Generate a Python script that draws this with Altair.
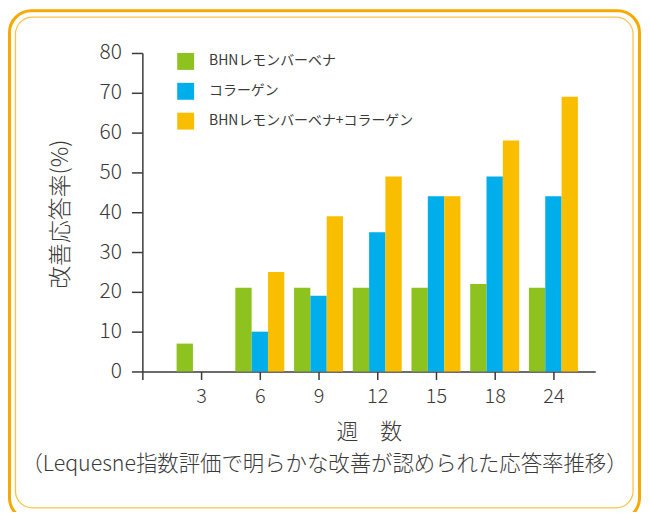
import altair as alt
import pandas as pd

# ---- data ----
weeks = ["3", "6", "9", "12", "15", "18", "24"]
series_names = ["BHNレモンバーベナ", "コラーゲン", "BHNレモンバーベナ+コラーゲン"]
bhn = [7, 21, 21, 21, 21, 22, 21]
collagen = [0, 10, 19, 35, 44, 49, 44]
combo = [0, 25, 39, 49, 44, 58, 69]
colors = ["#8DC21F", "#00AEEC", "#FABE00"]
tick_labels = [""] + weeks
y_ticks = list(range(0, 81, 10))

y_title = "改善応答率(%)"
x_title = "週　数"
subtitle = "（Lequesne指数評価で明らかな改善が認められた応答率推移）"

FONT = "Noto Sans CJK JP"
TXT = "#3a3a3a"

rows = []
for s, vals in enumerate([bhn, collagen, combo]):
    for i, v in enumerate(vals):
        rows.append({"week": weeks[i], "pos": i + 1, "s": s,
                     "series": series_names[s], "value": v})
df = pd.DataFrame(rows)

PW, PH = 455, 320
BW = 0.278
label_expr = "[" + ",".join(f"'{t}'" for t in tick_labels) + "][datum.value]"

bars = alt.Chart(df).mark_bar(orient="vertical").transform_calculate(
    x0=f"datum.pos + (datum.s - 1) * {BW} - {BW / 2}",
    x1=f"datum.pos + (datum.s - 1) * {BW} + {BW / 2}",
).encode(
    x=alt.X("x0:Q",
            scale=alt.Scale(domain=[0, PW / 59.0], nice=False, zero=False, padding=0),
            axis=alt.Axis(values=list(range(0, 8)), labelExpr=label_expr,
                          title=None, grid=False, tickSize=8, labelPadding=7,
                          labelFontSize=20, labelFontWeight=300,
                          labelColor=TXT, domainColor="#3a3a3a", tickColor="#3a3a3a",
                          domainWidth=1.5, tickWidth=1.5, labelFont=FONT)),
    x2="x1:Q",
    y=alt.Y("value:Q",
            scale=alt.Scale(domain=[0, 80], nice=False, padding=0),
            axis=alt.Axis(values=y_ticks, title=None, grid=False, tickSize=11,
                          labelPadding=10, labelFontSize=21, labelFontWeight=300,
                          labelColor=TXT, domainColor="#3a3a3a", tickColor="#3a3a3a",
                          domainWidth=1.5, tickWidth=1.5, labelFont=FONT)),
    y2=alt.datum(0),
    color=alt.Color("series:N",
                    scale=alt.Scale(domain=series_names, range=colors),
                    sort=series_names,
                    legend=alt.Legend(title=None, orient="none", legendX=35, legendY=0,
                                      symbolType="square", symbolSize=289,
                                      symbolStrokeWidth=0, rowPadding=13,
                                      labelOffset=15, labelFontSize=14, labelLimit=0,
                                      labelColor=TXT, labelFont=FONT, padding=0)),
)

one = pd.DataFrame({"a": [0]})

outer = alt.Chart(one).mark_rect(fillOpacity=0, stroke="#F6AA00", strokeWidth=3,
                                 cornerRadius=22).encode(
    x=alt.value(-133.5), x2=alt.value(499.5), y=alt.value(-42.5), y2=alt.value(469))
inner = alt.Chart(one).mark_rect(fillOpacity=0, stroke="#F8C54A", strokeWidth=1.3,
                                 cornerRadius=17).encode(
    x=alt.value(-127.5), x2=alt.value(493), y=alt.value(-36), y2=alt.value(457))

ytitle = alt.Chart(one).mark_text(text=y_title, font=FONT, fontSize=23, angle=270,
                                  color=TXT, align="center", baseline="middle",
                                  fontWeight=300).encode(
    x=alt.value(-82), y=alt.value(162))
xtitle = alt.Chart(one).mark_text(text=x_title, font=FONT, fontSize=22,
                                  color=TXT, align="center", baseline="middle",
                                  fontWeight=300).encode(
    x=alt.value(228), y=alt.value(381))
sub = alt.Chart(one).mark_text(text=subtitle, font=FONT, fontSize=21.5,
                               color=TXT, align="center", baseline="middle",
                               fontWeight=300).encode(
    x=alt.value(183), y=alt.value(414))

chart = alt.layer(outer, inner, bars, ytitle, xtitle, sub).properties(
    width=PW, height=PH,
    autosize=alt.AutoSizeParams(type="none"),
    padding={"left": 135, "top": 44, "right": 46, "bottom": 140},
    background="white",
).configure(font=FONT).configure_view(stroke=None)

chart.save("out.html", embed_options={"renderer": "svg", "actions": False})
